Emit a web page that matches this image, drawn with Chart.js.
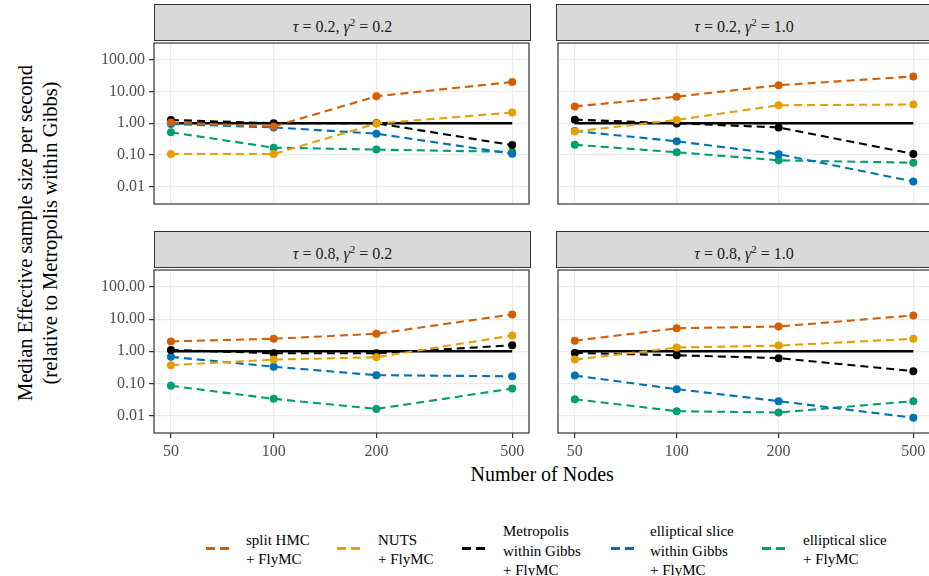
<!DOCTYPE html>
<html>
<head>
<meta charset="utf-8">
<script src="https://cdn.jsdelivr.net/npm/chart.js@4.4.1/dist/chart.umd.min.js"></script>
<style>
  html, body { margin: 0; padding: 0; background: #fff; }
  body { width: 929px; height: 576px; overflow: hidden; position: relative; font-family: "Liberation Serif", "Times New Roman", serif; }
  canvas { position: absolute; }
  .strip { position: absolute; box-sizing: border-box; background: #D9D9D9; border: 1.2px solid #333; color: #1A1A1A; font-size: 16px; text-align: center; }
  .strip sup { font-size: 11px; }
  .ytitle { position: absolute; width: 420px; text-align: center; font-size: 20.5px; line-height: 25px; color: #000; transform: rotate(-90deg); }
  .xtitle { position: absolute; font-size: 20px; color: #000; white-space: nowrap; }
  .key { position: absolute; height: 2.5px; width: 23px; }
  .lab { position: absolute; font-size: 15px; line-height: 19.5px; color: #000; white-space: nowrap; }
</style>
</head>
<body>
<div id="stage"></div>
<div class="ytitle" style="left:-172.5px; top:208px;">Median Effective sample size per second<br>(relative to Metropolis within Gibbs)</div>
<div class="xtitle" id="xtitle">Number of Nodes</div>
<script>
// x values and tick labels
const nodes = [50, 100, 200, 500];
const yTickValues = [0.01, 0.1, 1, 10, 100];

// facet labels
const panelTau = ['0.2', '0.2', '0.8', '0.8'];
const panelGamma2 = ['0.2', '1.0', '0.2', '1.0'];

// one row per panel: (0.2,0.2), (0.2,1.0), (0.8,0.2), (0.8,1.0)
const splitHMC = [
  [1.05, 0.79, 7.1, 20],
  [3.4, 6.9, 15.8, 30],
  [2.03, 2.45, 3.5, 14],
  [2.13, 5.2, 5.9, 13.1]
];
const nuts = [
  [0.107, 0.107, 0.98, 2.18],
  [0.55, 1.27, 3.7, 3.9],
  [0.37, 0.55, 0.65, 3.1],
  [0.55, 1.3, 1.5, 2.45]
];
const metropolis = [
  [1.27, 1.0, 1.0, 0.205],
  [1.3, 0.99, 0.74, 0.108],
  [1.1, 0.87, 0.87, 1.53],
  [0.89, 0.75, 0.61, 0.24]
];
const ellipticalGibbs = [
  [0.95, 0.74, 0.47, 0.11],
  [0.57, 0.27, 0.106, 0.0146],
  [0.67, 0.33, 0.18, 0.166],
  [0.175, 0.066, 0.028, 0.0085]
];
const ellipticalSlice = [
  [0.52, 0.17, 0.148, 0.125],
  [0.21, 0.122, 0.068, 0.057],
  [0.084, 0.033, 0.016, 0.069],
  [0.032, 0.0136, 0.0124, 0.028]
];
// Metropolis within Gibbs itself, the reference level
const baseline = [1, 1, 1, 1];

const seriesLabels = [
  ['split HMC', '+ FlyMC'],
  ['NUTS', '+ FlyMC'],
  ['Metropolis', 'within Gibbs', '+ FlyMC'],
  ['elliptical slice', 'within Gibbs', '+ FlyMC'],
  ['elliptical slice', '+ FlyMC']
];
const seriesData = [splitHMC, nuts, metropolis, ellipticalGibbs, ellipticalSlice];
const seriesColors = ['#D55E00', '#E69F00', '#000000', '#0072B2', '#009E73'];

const FONT = '"Liberation Serif", "Times New Roman", serif';

// panel layout: chart area boxes
const panels = [
  { left: 154, right: 531, top: 41, bottom: 206, showY: true, showX: false },
  { left: 556, right: 932, top: 41, bottom: 206, showY: false, showX: false },
  { left: 154, right: 531, top: 268, bottom: 433, showY: true, showX: true },
  { left: 556, right: 932, top: 268, bottom: 433, showY: false, showX: true }
];

const panelBorder = {
  id: 'panelBorder',
  afterDraw(chart) {
    const a = chart.chartArea;
    const ctx = chart.ctx;
    ctx.save();
    ctx.strokeStyle = '#333333';
    ctx.lineWidth = 1.2;
    ctx.strokeRect(a.left, a.top, a.right - a.left, a.bottom - a.top);
    ctx.restore();
  }
};

function toPoints(vals) {
  return nodes.map((n, i) => ({ x: n, y: vals[i] }));
}

// fixed scale sizes, no extra label padding
function fixSize(s, w, h) {
  if (w !== null) s.width = w;
  if (h !== null) s.height = h;
  s.paddingTop = 0;
  s.paddingBottom = 0;
  s.paddingLeft = 0;
  s.paddingRight = 0;
}

function makePanel(p, idx) {
  const yW = p.showY ? 74 : 0;
  const xH = p.showX ? 30 : 0;
  const padL = p.showY ? 0 : 2;
  const padB = p.showX ? 0 : 2;
  const cLeft = p.left - yW - padL;
  const cTop = p.top - 2;
  const w = p.right + 2 - cLeft;
  const h = p.bottom + padB + xH - cTop;

  const canvas = document.createElement('canvas');
  canvas.width = w;
  canvas.height = h;
  canvas.style.left = cLeft + 'px';
  canvas.style.top = cTop + 'px';
  canvas.style.width = w + 'px';
  canvas.style.height = h + 'px';
  document.getElementById('stage').appendChild(canvas);

  // strip header
  const strip = document.createElement('div');
  strip.className = 'strip';
  strip.style.left = p.left + 'px';
  strip.style.top = (p.top - 37) + 'px';
  strip.style.width = (p.right - p.left) + 'px';
  strip.style.height = '37px';
  strip.style.lineHeight = '35px';
  strip.innerHTML = '<i>τ</i> = ' + panelTau[idx] + ', <i>γ</i><sup>2</sup> = ' + panelGamma2[idx];
  document.body.appendChild(strip);

  const datasets = seriesData.map((s, k) => ({
    data: toPoints(s[idx]),
    borderColor: seriesColors[k],
    backgroundColor: seriesColors[k],
    pointBackgroundColor: seriesColors[k],
    borderWidth: 2.1,
    borderDash: [8, 5],
    pointRadius: 4,
    pointBorderWidth: 0,
    tension: 0
  }));
  datasets.push({
    data: toPoints(baseline),
    borderColor: '#000000',
    borderWidth: 2.4,
    pointRadius: 0,
    tension: 0
  });

  new Chart(canvas, {
    type: 'line',
    data: { datasets: datasets },
    options: {
      responsive: false,
      animation: false,
      layout: { padding: { left: padL, top: 2, right: 2, bottom: padB } },
      plugins: { legend: { display: false }, tooltip: { enabled: false } },
      scales: {
        x: {
          type: 'logarithmic',
          min: 44.6,
          max: 560,
          afterBuildTicks: s => { s.ticks = nodes.map(v => ({ value: v })); },
          afterFit: s => fixSize(s, null, xH),
          border: { display: false },
          grid: { color: '#EBEBEB', lineWidth: 1.2, drawTicks: p.showX, tickLength: 5, tickColor: '#333333', tickWidth: 1.2 },
          ticks: {
            display: p.showX,
            autoSkip: false,
            maxRotation: 0,
            padding: 4,
            color: '#4D4D4D',
            font: { family: FONT, size: 16 },
            callback: v => String(v)
          }
        },
        y: {
          type: 'logarithmic',
          min: 0.00285,
          max: 339,
          afterBuildTicks: s => { s.ticks = yTickValues.map(v => ({ value: v })); },
          afterFit: s => fixSize(s, yW, null),
          border: { display: false },
          grid: { color: '#EBEBEB', lineWidth: 1.2, drawTicks: p.showY, tickLength: 5, tickColor: '#333333', tickWidth: 1.2 },
          ticks: {
            display: p.showY,
            autoSkip: false,
            padding: 4,
            color: '#4D4D4D',
            font: { family: FONT, size: 16 },
            callback: v => Number(v).toFixed(2)
          }
        }
      }
    },
    plugins: [panelBorder]
  });
}

function drawAll() {
  Chart.defaults.font.family = FONT;
  panels.forEach(makePanel);

  // x axis title, centred under the panels
  const xt = document.getElementById('xtitle');
  xt.style.left = (542 - xt.offsetWidth / 2) + 'px';
  xt.style.top = '463px';

  // legend
  const keyX = [206, 337, 462, 611, 762];
  const labX = [246, 378, 503, 650, 803];
  seriesLabels.forEach((lines, k) => {
    const key = document.createElement('div');
    key.className = 'key';
    key.style.left = keyX[k] + 'px';
    key.style.top = '547px';
    key.style.background = 'repeating-linear-gradient(to right, ' + seriesColors[k] + ' 0 9px, transparent 9px 14px)';
    document.body.appendChild(key);

    const lab = document.createElement('div');
    lab.className = 'lab';
    lab.style.left = labX[k] + 'px';
    lab.style.top = (lines.length === 3 ? 522 : 530.5) + 'px';
    lab.innerHTML = lines.join('<br>');
    document.body.appendChild(lab);
  });
}

document.fonts.load('16px "Liberation Serif"').then(drawAll, drawAll);
</script>
</body>
</html>
